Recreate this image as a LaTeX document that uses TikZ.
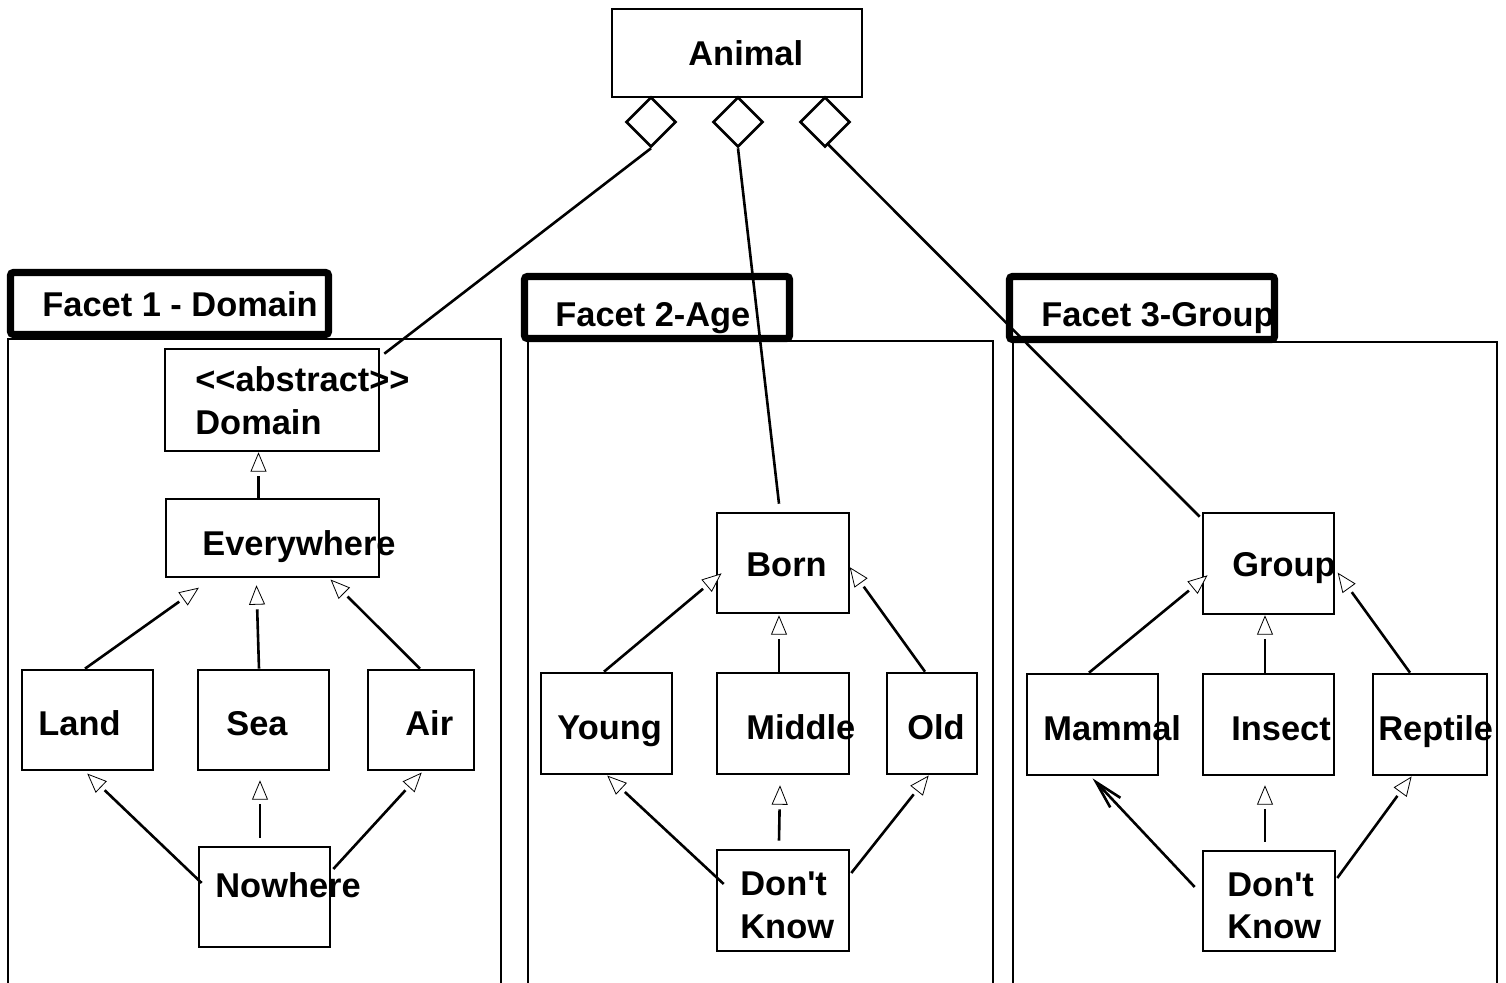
\documentclass[tikz,border=0pt]{standalone}
\usepackage{fontspec}
\newfontfamily\arial{Liberation Sans}
\usetikzlibrary{calc,fit,shapes.geometric,arrows.meta}
\newcommand\genarrow[2]{%
  \coordinate (gB) at ($(#2)!9pt!(#1)$);
  \draw[tri] (#2) -- ($(gB)!3.75pt!90:(#2)$) -- ($(gB)!3.75pt!-90:(#2)$) -- cycle;
  \draw[conn] (#1) -- ($(#2)!11.5pt!(#1)$);
}
\begin{document}
\begin{tikzpicture}[x=0.5pt,y=-0.5pt,
 box/.style={draw,line width=1.3pt,inner sep=0pt},
 ttl/.style={draw,line width=3.6pt,inner sep=0pt,rounded corners=1.5pt},
 cont/.style={line width=1pt},
 txt/.style={inner sep=0pt,anchor=base west,font=\arial\fontsize{17.2}{21}\selectfont\bfseries},
 conn/.style={line width=1.3pt},
 agg/.style={line width=1.3pt},
 tri/.style={line width=0.4pt,fill=white,line join=miter},
 dia/.style={draw,diamond,aspect=1,minimum width=25pt,minimum height=25pt,inner sep=0pt,line width=1.3pt}]
\useasboundingbox (0,0) rectangle (1506,983);

% containers
\draw[cont] (8,983) |- (501,339) -- (501,983);
\draw[cont] (528,983) |- (993,341) -- (993,983);
\draw[cont] (1013,983) |- (1497,342) -- (1497,983);

% title boxes
\node[ttl,fit={(10.5,272.5) (328.5,334.5)}] (f1) {};
\node[ttl,fit={(524.5,276.5) (789.5,338.5)}] (f2) {};
\node[ttl,fit={(1009.5,276.5) (1274.5,339.5)}] (f3) {};
\node[txt] (tf1) at (42,317) {Facet 1 - Domain};
\node[txt] (tf2) at (555,327) {Facet 2-Age};
\node[txt] (tf3) at (1041,327) {Facet 3-Group};

% Animal
\node[box,fit={(612,9) (862,97)}] (animal) {};
\node[txt] (tanimal) at (688,66) {Animal};
\node[dia] (d1) at (651,122) {};
\node[dia] (d2) at (738,122) {};
\node[dia] (d3) at (825,122) {};

% Facet 1 boxes
\node[box,fit={(165,349) (379,451)}] (domain) {};
\node[box,fit={(166,499) (379,577)}] (every) {};
\node[box,fit={(22,670) (153,770)}] (land) {};
\node[box,fit={(198,670) (329,770)}] (sea) {};
\node[box,fit={(368,670) (474,770)}] (air) {};
\node[box,fit={(199,847) (330,947)}] (nowhere) {};
\node[txt] (tabs) at (195,392) {<<abstract>>};
\node[txt] (tdom) at (195,435) {Domain};
\node[txt] (tevery) at (202,556) {Everywhere};
\node[txt] (tland) at (38,736) {Land};
\node[txt] (tsea) at (226,736) {Sea};
\node[txt] (tair) at (405,736) {Air};
\node[txt] (tnow) at (215,898) {Nowhere};

% Facet 2 boxes
\node[box,fit={(717,513) (849,613)}] (born) {};
\node[box,fit={(541,673) (672,774)}] (young) {};
\node[box,fit={(717,673) (849,774)}] (middle) {};
\node[box,fit={(887,673) (977,774)}] (old) {};
\node[box,fit={(717,850) (849,951)}] (dka) {};
\node[txt] (tborn) at (746,577) {Born};
\node[txt] (tyoung) at (557,740) {Young};
\node[txt] (tmiddle) at (746,740) {Middle};
\node[txt] (told) at (907,740) {Old};
\node[txt] (tdon1) at (740,896) {Don't};
\node[txt] (tknow1) at (740,938) {Know};

% Facet 3 boxes
\node[box,fit={(1203,513) (1334,614)}] (group) {};
\node[box,fit={(1027,674) (1158,775)}] (mammal) {};
\node[box,fit={(1203,674) (1334,775)}] (insect) {};
\node[box,fit={(1373,674) (1487,775)}] (reptile) {};
\node[box,fit={(1203,851) (1335,951)}] (dkb) {};
\node[txt] (tgroup) at (1232,577) {Group};
\node[txt] (tmammal) at (1043,741) {Mammal};
\node[txt] (tinsect) at (1231,741) {Insect};
\node[txt] (treptile) at (1378,741) {Reptile};
\node[txt] (tdon2) at (1227,897) {Don't};
\node[txt] (tknow2) at (1227,938) {Know};

% aggregation lines
\draw[agg] (d1.south) -- ($(domain.north east)+(4,6)$);
\draw[agg] (d2.south) -- ($(born.north)+(-4,-8)$);
\draw[agg] ($(d3.south)+(2,-5)$) -- ($(group.north west)+(-2,5)$);

% generalisation endpoints, facet 1
\coordinate (e1s) at ($(every.north)+(-14,0)$);
\coordinate (e1t) at ($(domain.south)+(-13.5,1)$);
\coordinate (e2s) at ($(land.north)+(-2.5,0)$);
\coordinate (e2t) at ($(every.south)+(-74.5,10)$);
\coordinate (e3s) at ($(sea.north)+(-4.5,0)$);
\coordinate (e3t) at ($(every.south)+(-16,8)$);
\coordinate (e4s) at ($(air.north)+(-1,0)$);
\coordinate (e4t) at ($(every.south east)+(-49,2)$);
\coordinate (e5s) at ($(nowhere.west)+(4,-14)$);
\coordinate (e5t) at ($(land.south)+(0.5,3)$);
\coordinate (e6s) at ($(nowhere.north)+(-4.5,-8)$);
\coordinate (e6t) at ($(sea.south)+(-3.5,10)$);
\coordinate (e7s) at ($(nowhere.east)+(2,-28)$);
\coordinate (e7t) at ($(air.south)+(0,2)$);
\genarrow{e1s}{e1t}
\genarrow{e2s}{e2t}
\genarrow{e3s}{e3t}
\genarrow{e4s}{e4t}
\genarrow{e5s}{e5t}
\genarrow{e6s}{e6t}
\genarrow{e7s}{e7t}

% facet 2
\coordinate (f1s) at ($(young.north)+(-2.5,0)$);
\coordinate (f1t) at ($(born.west)+(5,11)$);
\coordinate (f2s) at ($(middle.north)+(-4,0)$);
\coordinate (f2t) at ($(born.south)+(-4,2)$);
\coordinate (f3s) at ($(old.north)+(-7,0)$);
\coordinate (f3t) at ($(born.east)+(0,5)$);
\coordinate (f4s) at ($(dka.west)+(8,-16.5)$);
\coordinate (f4t) at ($(young.south)+(1.5,1)$);
\coordinate (f5s) at ($(dka.north)+(-4,-8)$);
\coordinate (f5t) at ($(middle.south)+(-3,11)$);
\coordinate (f6s) at ($(dka.east)+(1,-27.5)$);
\coordinate (f6t) at ($(old.south)+(-4,1)$);
\genarrow{f1s}{f1t}
\genarrow{f2s}{f2t}
\genarrow{f3s}{f3t}
\genarrow{f4s}{f4t}
\genarrow{f5s}{f5t}
\genarrow{f6s}{f6t}

% facet 3
\coordinate (g1s) at ($(mammal.north)+(-3.5,0)$);
\coordinate (g1t) at ($(group.west)+(5,12.5)$);
\coordinate (g2s) at ($(insect.north)+(-3.5,0)$);
\coordinate (g2t) at ($(group.south)+(-3.5,1)$);
\coordinate (g3s) at ($(reptile.north)+(-20,0)$);
\coordinate (g3t) at ($(group.east)+(3,10)$);
\coordinate (g4s) at ($(dkb.west)+(-7,-14)$);
\coordinate (g4t) at ($(mammal.south)+(0,2)$);
\coordinate (g5s) at ($(dkb.north)+(-4,-8)$);
\coordinate (g5t) at ($(insect.south)+(-3.5,10)$);
\coordinate (g6s) at ($(dkb.east)+(1,-23)$);
\coordinate (g6t) at ($(reptile.south)+(-19,1)$);
\genarrow{g1s}{g1t}
\genarrow{g2s}{g2t}
\genarrow{g3s}{g3t}
\draw[conn,-{Straight Barb[length=14pt,width=7pt,line width=1.3pt]}] (g4s) -- (g4t);
\genarrow{g5s}{g5t}
\genarrow{g6s}{g6t}
\end{tikzpicture}
\end{document}
